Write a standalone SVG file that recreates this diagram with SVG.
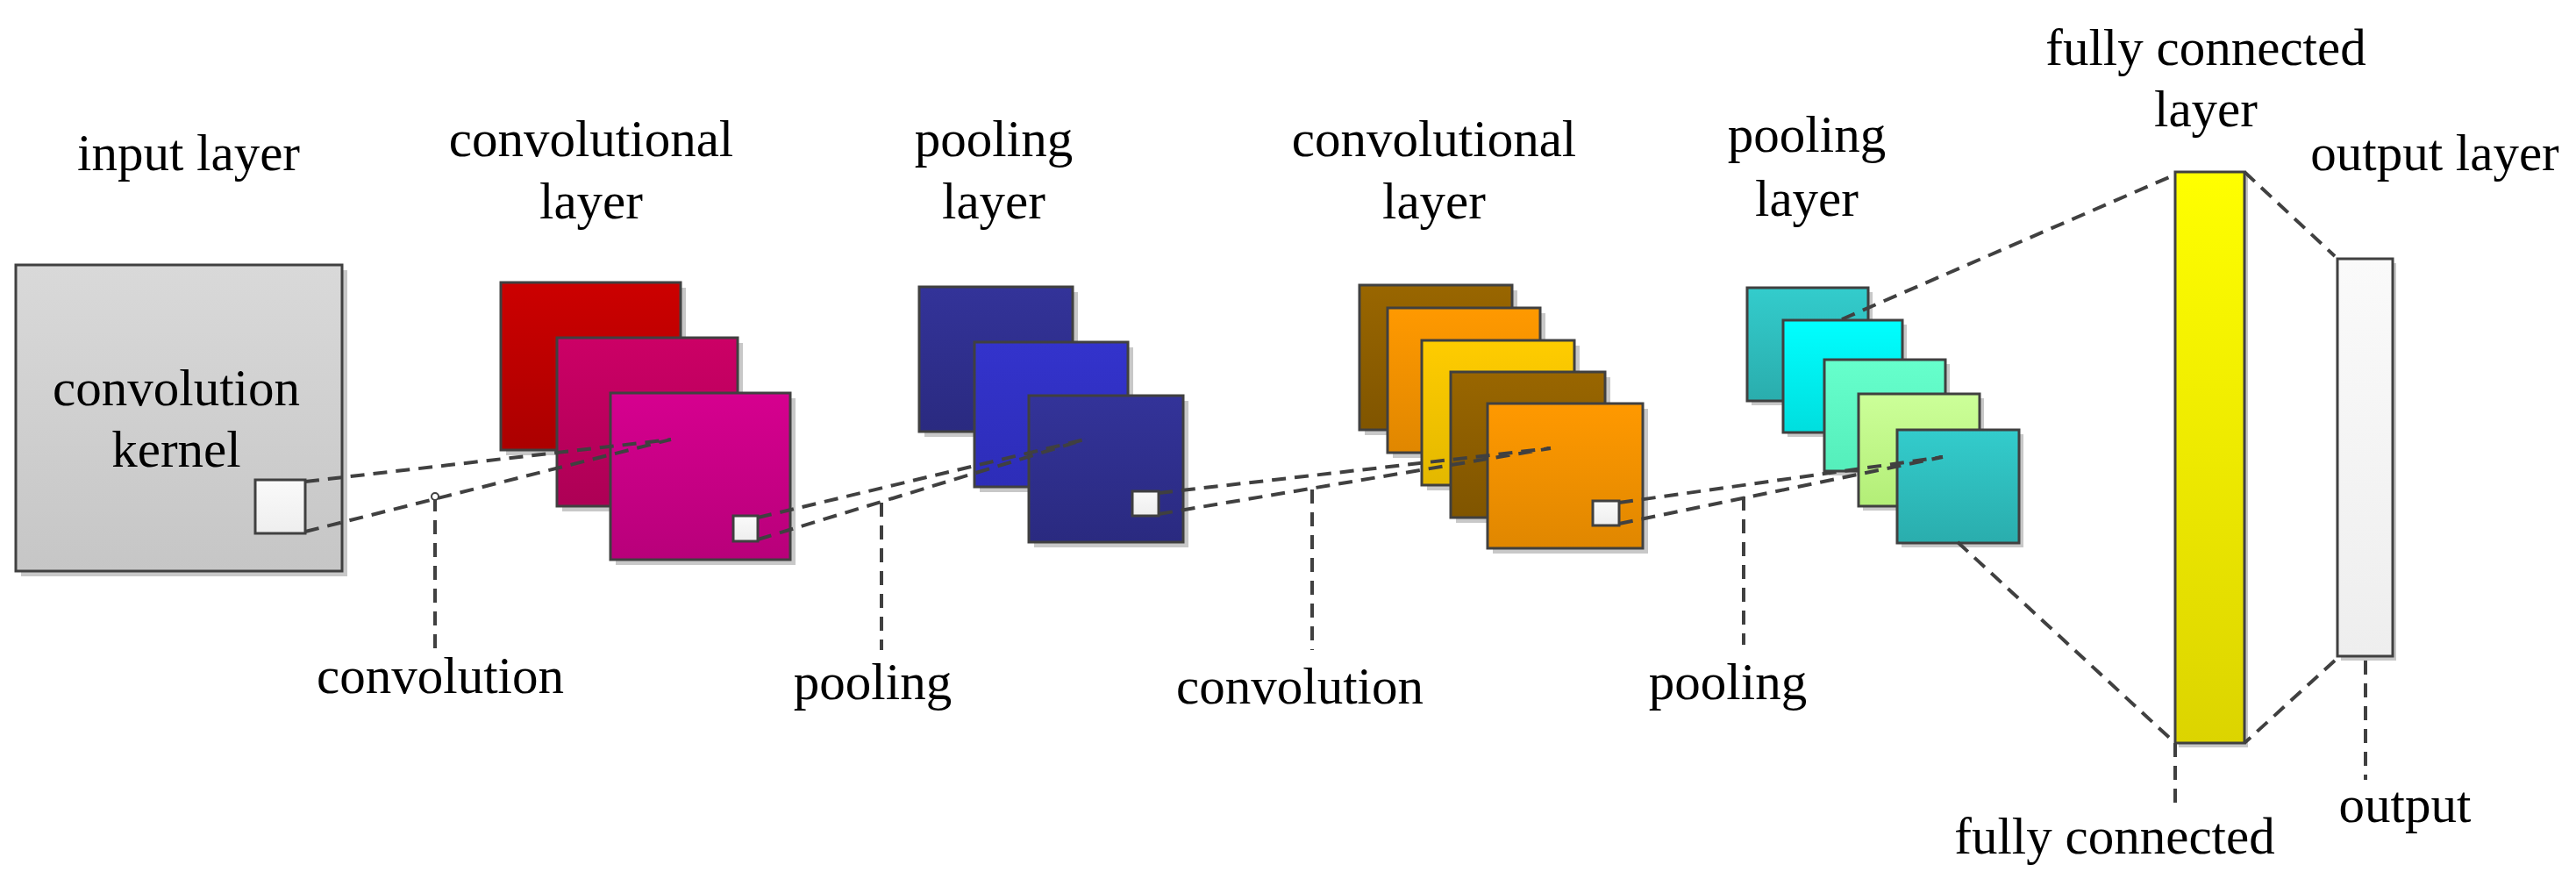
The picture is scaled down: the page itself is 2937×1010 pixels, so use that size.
<svg xmlns="http://www.w3.org/2000/svg" width="2937" height="1010" viewBox="0 0 2937 1010">
<defs>
<style>
text{font-family:"Liberation Serif","Times New Roman",serif;font-size:59px;fill:#000;text-anchor:middle}
.b{stroke:#404040;stroke-width:3}
.sh{fill:#c8c8c8}
.d{fill:none;stroke:#404040;stroke-width:4;stroke-dasharray:16 10}
</style>
<linearGradient id="gIn" x1="0" y1="0" x2="0" y2="1"><stop offset="0" stop-color="#d9d9d9"/><stop offset="1" stop-color="#c6c6c6"/></linearGradient>
<linearGradient id="gW" x1="0" y1="0" x2="0" y2="1"><stop offset="0" stop-color="#fafafa"/><stop offset="1" stop-color="#eeeeee"/></linearGradient>
<linearGradient id="gR" x1="0" y1="0" x2="0" y2="1"><stop offset="0" stop-color="#cc0000"/><stop offset="1" stop-color="#ab0000"/></linearGradient>
<linearGradient id="gM" x1="0" y1="0" x2="0" y2="1"><stop offset="0" stop-color="#cc0066"/><stop offset="1" stop-color="#ad0055"/></linearGradient>
<linearGradient id="gP" x1="0" y1="0" x2="0" y2="1"><stop offset="0" stop-color="#d6008f"/><stop offset="1" stop-color="#b8007a"/></linearGradient>
<linearGradient id="gN" x1="0" y1="0" x2="0" y2="1"><stop offset="0" stop-color="#333399"/><stop offset="1" stop-color="#2a2a80"/></linearGradient>
<linearGradient id="gB" x1="0" y1="0" x2="0" y2="1"><stop offset="0" stop-color="#3333cc"/><stop offset="1" stop-color="#2d2db8"/></linearGradient>
<linearGradient id="gBr" x1="0" y1="0" x2="0" y2="1"><stop offset="0" stop-color="#996600"/><stop offset="1" stop-color="#805500"/></linearGradient>
<linearGradient id="gO" x1="0" y1="0" x2="0" y2="1"><stop offset="0" stop-color="#ff9900"/><stop offset="1" stop-color="#e08700"/></linearGradient>
<linearGradient id="gY" x1="0" y1="0" x2="0" y2="1"><stop offset="0" stop-color="#ffcc00"/><stop offset="1" stop-color="#e3b800"/></linearGradient>
<linearGradient id="gT" x1="0" y1="0" x2="0" y2="1"><stop offset="0" stop-color="#33cccc"/><stop offset="1" stop-color="#2aadad"/></linearGradient>
<linearGradient id="gC" x1="0" y1="0" x2="0" y2="1"><stop offset="0" stop-color="#00ffff"/><stop offset="1" stop-color="#00dede"/></linearGradient>
<linearGradient id="gA" x1="0" y1="0" x2="0" y2="1"><stop offset="0" stop-color="#66ffcc"/><stop offset="1" stop-color="#55eebb"/></linearGradient>
<linearGradient id="gL" x1="0" y1="0" x2="0" y2="1"><stop offset="0" stop-color="#ccff99"/><stop offset="1" stop-color="#b3ee77"/></linearGradient>
<linearGradient id="gF" x1="0" y1="0" x2="0" y2="1"><stop offset="0" stop-color="#ffff00"/><stop offset="1" stop-color="#dcd400"/></linearGradient>
</defs>
<rect width="2937" height="1010" fill="#fff"/>

<g id="input-layer">
<rect class="sh" x="24" y="308" width="372" height="349"/>
<rect class="b" x="18" y="302" width="372" height="349" fill="url(#gIn)"/>
<text x="201" y="462">convolution</text>
<text x="201" y="532">kernel</text>
<rect class="b" x="291" y="547" width="57" height="61" fill="url(#gW)"/>
<text x="215" y="194">input layer</text>
</g>

<g id="conv-layer-1">
<rect class="sh" x="577" y="328" width="205" height="191"/>
<rect class="b" x="571" y="322" width="205" height="191" fill="url(#gR)"/>
<rect class="sh" x="641" y="391" width="206" height="192"/>
<rect class="b" x="635" y="385" width="206" height="192" fill="url(#gM)"/>
<rect class="sh" x="702" y="454" width="205" height="190"/>
<rect class="b" x="696" y="448" width="205" height="190" fill="url(#gP)"/>
<rect class="b" x="836" y="588" width="28" height="29" fill="url(#gW)"/>
<text x="674" y="178">convolutional</text>
<text x="674" y="249">layer</text>
</g>

<g id="pool-layer-1">
<rect class="sh" x="1054" y="333" width="175" height="165"/>
<rect class="b" x="1048" y="327" width="175" height="165" fill="url(#gN)"/>
<rect class="sh" x="1117" y="396" width="175" height="165"/>
<rect class="b" x="1111" y="390" width="175" height="165" fill="url(#gB)"/>
<rect class="sh" x="1179" y="457" width="176" height="167"/>
<rect class="b" x="1173" y="451" width="176" height="167" fill="url(#gN)"/>
<rect class="b" x="1291" y="560" width="30" height="28" fill="url(#gW)"/>
<text x="1133" y="178">pooling</text>
<text x="1133" y="249">layer</text>
</g>

<g id="conv-layer-2">
<rect class="sh" x="1556" y="331" width="174" height="165"/>
<rect class="b" x="1550" y="325" width="174" height="165" fill="url(#gBr)"/>
<rect class="sh" x="1588" y="357" width="174" height="165"/>
<rect class="b" x="1582" y="351" width="174" height="165" fill="url(#gO)"/>
<rect class="sh" x="1627" y="394" width="174" height="165"/>
<rect class="b" x="1621" y="388" width="174" height="165" fill="url(#gY)"/>
<rect class="sh" x="1660" y="430" width="176" height="166"/>
<rect class="b" x="1654" y="424" width="176" height="166" fill="url(#gBr)"/>
<rect class="sh" x="1702" y="466" width="177" height="165"/>
<rect class="b" x="1696" y="460" width="177" height="165" fill="url(#gO)"/>
<rect class="b" x="1816" y="571" width="30" height="28" fill="url(#gW)"/>
<text x="1635" y="178">convolutional</text>
<text x="1635" y="249">layer</text>
</g>

<g id="pool-layer-2">
<rect class="sh" x="1997" y="333" width="138" height="129"/>
<rect class="b" x="1992" y="328" width="138" height="129" fill="url(#gT)"/>
<rect class="sh" x="2038" y="370" width="136" height="128"/>
<rect class="b" x="2033" y="365" width="136" height="128" fill="url(#gC)"/>
<rect class="sh" x="2085" y="415" width="138" height="127"/>
<rect class="b" x="2080" y="410" width="138" height="127" fill="url(#gA)"/>
<rect class="sh" x="2124" y="454" width="138" height="128"/>
<rect class="b" x="2119" y="449" width="138" height="128" fill="url(#gL)"/>
<rect class="sh" x="2168" y="495" width="139" height="129"/>
<rect class="b" x="2163" y="490" width="139" height="129" fill="url(#gT)"/>
<text x="2060" y="173">pooling</text>
<text x="2060" y="246">layer</text>
</g>

<g id="fc-layer">
<rect class="sh" x="2484" y="201" width="79" height="651"/>
<rect class="b" x="2480" y="196" width="79" height="651" fill="url(#gF)"/>
<text x="2515" y="74">fully connected</text>
<text x="2515" y="144">layer</text>
</g>

<g id="output-layer">
<rect class="sh" x="2669" y="300" width="63" height="453"/>
<rect class="b" x="2665" y="295" width="63" height="453" fill="url(#gW)"/>
<text x="2776" y="194">output layer</text>
</g>

<g id="connectors">
<path class="d" d="M348 549 L765 501 M348 606 L765 501"/>
<path class="d" d="M496 567 V741"/>
<circle cx="496" cy="566" r="4" fill="#fff" stroke="#404040" stroke-width="2"/>
<path class="d" d="M864 590 L1237 501 M864 615 L1237 501"/>
<path class="d" d="M1005 573 V741"/>
<path class="d" d="M1321 562 L1768 511 M1321 586 L1768 511"/>
<path class="d" d="M1496 558 V741"/>
<path class="d" d="M1846 573 L2215 521 M1846 597 L2215 521"/>
<path class="d" d="M1988 566 V735"/>
<path class="d" d="M2100 364 L2480 199 M2232 618 L2480 847"/>
<path class="d" d="M2559 196 L2662 292 M2662 753 L2559 847"/>
<path class="d" d="M2480 847 V924 M2697 753 V889"/>
</g>

<g id="labels">
<text x="502" y="790">convolution</text>
<text x="995" y="797">pooling</text>
<text x="1482" y="802">convolution</text>
<text x="1970" y="797">pooling</text>
<text x="2411" y="973">fully connected</text>
<text x="2742" y="937">output</text>
</g>
</svg>
